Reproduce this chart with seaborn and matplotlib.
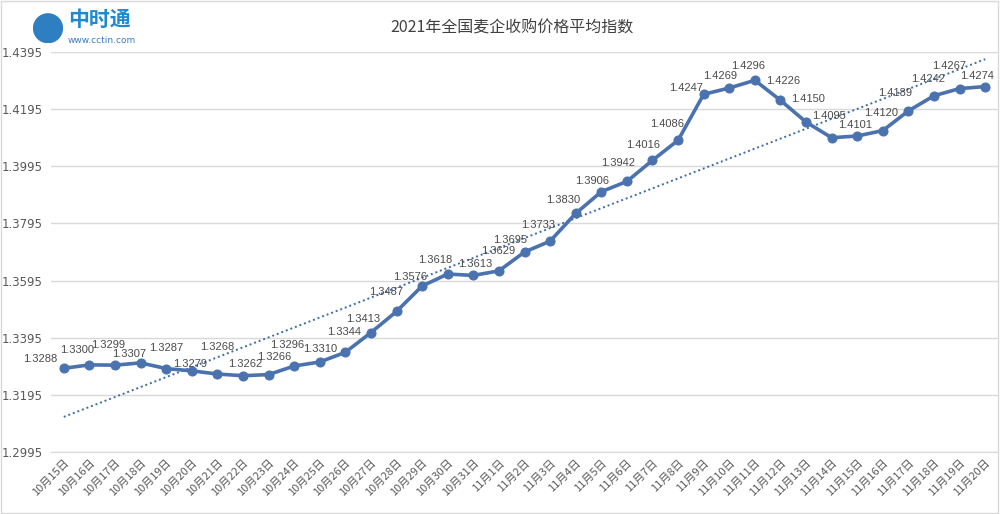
import numpy as np
import pandas as pd
import matplotlib
matplotlib.use("Agg")
import matplotlib.pyplot as plt
import seaborn as sns
from matplotlib.patches import Rectangle

dates = ["10月15日", "10月16日", "10月17日", "10月18日", "10月19日", "10月20日", "10月21日",
         "10月22日", "10月23日", "10月24日", "10月25日", "10月26日", "10月27日", "10月28日",
         "10月29日", "10月30日", "10月31日", "11月1日", "11月2日", "11月3日", "11月4日",
         "11月5日", "11月6日", "11月7日", "11月8日", "11月9日", "11月10日", "11月11日",
         "11月12日", "11月13日", "11月14日", "11月15日", "11月16日", "11月17日", "11月18日",
         "11月19日", "11月20日"]
values = [1.3288, 1.3300, 1.3299, 1.3307, 1.3287, 1.3279, 1.3268, 1.3262, 1.3266, 1.3296,
          1.3310, 1.3344, 1.3413, 1.3487, 1.3576, 1.3618, 1.3613, 1.3629, 1.3695, 1.3733,
          1.3830, 1.3906, 1.3942, 1.4016, 1.4086, 1.4247, 1.4269, 1.4296, 1.4226, 1.4150,
          1.4095, 1.4101, 1.4120, 1.4189, 1.4242, 1.4267, 1.4274]
y_ticks = [1.2995, 1.3195, 1.3395, 1.3595, 1.3795, 1.3995, 1.4195, 1.4395]
title = "2021年全国麦企收购价格平均指数"

# label placement (style only): pixel offsets of each value label from its point
label_dx = [-24, -12, -7, -11, 0, -2, 0, 2, 6, -7, 0, -1, -8, -10, -12, -12, 2, -1, -14,
            -12, -13, -9, -9, -9, -11, -18, -9, -7, 3, 2, -3, -2, -2, -13, -6, -11, -8]
label_dy = [9, 15, 20, 9, 21, 7, 27, 12, 18, 21, 13, 20, 14, 19, 9, 14, 11, 20, 12,
            16, 13, 11, 18, 15, 16, 6, 12, 14, 19, 23, 22, 11, 18, 18, 17, 23, 11]

sns.set_style("white")
plt.rcParams['font.family'] = ['Noto Sans CJK SC', 'DejaVu Sans']

df = pd.DataFrame({"x": np.arange(len(values)), "value": values})

fig = plt.figure(figsize=(10, 5.14), dpi=100)
ax = fig.add_axes([0.051, 0.1206, 0.947, 0.7782])

line_color = "#4A72AE"
# linear trend line fitted to the series
coef = np.polyfit(df["x"], df["value"], 1)
trend = np.polyval(coef, df["x"])
ax.plot(df["x"], trend, linestyle=(0, (1, 1.5)), color="#3E6CA8", linewidth=1.4, zorder=2)

sns.lineplot(data=df, x="x", y="value", ax=ax, color=line_color, linewidth=2.6,
             marker="o", markersize=6.5, markeredgecolor=line_color, zorder=3)

for xi, v, dx, dy in zip(df["x"], values, label_dx, label_dy):
    ax.annotate(f"{v:.4f}", (xi, v), xytext=(dx, dy), textcoords="offset pixels",
                ha="center", va="center", fontsize=8, color="#4a4a4a",
                family=['Liberation Sans', 'DejaVu Sans'], zorder=4)

ax.set_xlim(-0.5, len(values) - 0.5)
ax.set_ylim(y_ticks[0], y_ticks[-1])
ax.set_yticks(y_ticks)
ax.set_yticklabels([f"{t:.4f}" for t in y_ticks], fontsize=8.5, color="#595959",
                   family=['DejaVu Sans'])
ax.set_xticks(df["x"])
ax.set_xticklabels(dates, rotation=45, ha="right", va="top", fontsize=8,
                   color="#595959", rotation_mode="anchor")
ax.tick_params(axis="x", length=0, pad=4)
ax.tick_params(axis="y", length=0, pad=6)
ax.set_xticks(np.arange(-0.5, len(values), 1), minor=True)
ax.tick_params(axis="x", which="minor", length=5, color="#d9d9d9", direction="out")
ax.yaxis.grid(True, color="#d9d9d9", linewidth=1)
ax.xaxis.grid(False)
for s in ["left", "right", "top"]:
    ax.spines[s].set_visible(False)
ax.spines["bottom"].set_color("#d9d9d9")
ax.set_xlabel("")
ax.set_ylabel("")

fig.text(0.512, 0.945, title, ha="center", va="center", fontsize=11.5, color="#404040")

# logo
logo_ax = fig.add_axes([0.033, 0.915, 0.03, 0.06])
logo_ax.add_patch(plt.Circle((0.5, 0.5), 0.48, color="#2E7FC1"))
logo_ax.set_xlim(0, 1); logo_ax.set_ylim(0, 1); logo_ax.set_aspect("equal"); logo_ax.axis("off")
fig.text(0.068, 0.963, "中时通", ha="left", va="center", fontsize=15, color="#1E88D0",
         fontweight="bold")
fig.text(0.068, 0.922, "www.cctin.com", ha="left", va="center", fontsize=6.5, color="#3A7FC0",
         family=['DejaVu Sans'])

fig.patches.append(Rectangle((0.001, 0.001), 0.997, 0.997, transform=fig.transFigure,
                             fill=False, edgecolor="#d9d9d9", linewidth=1))

fig.savefig("out.png", dpi=100)
